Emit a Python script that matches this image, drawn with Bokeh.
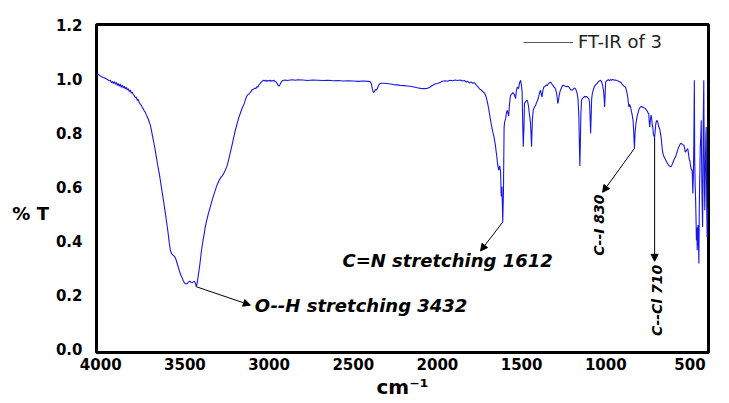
from math import pi

from bokeh.plotting import figure
from bokeh.models import (Range1d, FixedTicker, NumeralTickFormatter, Arrow, NormalHead,
                          Label, Legend, LegendItem)
from bokeh.embed import file_html
from bokeh.resources import INLINE

# FT-IR spectrum of compound 3: wavenumber (cm-1) and transmittance
wavenumber = [
    4020, 4002, 3985, 3970, 3960, 3950, 3943, 3936, 3930, 3925, 3918, 3913, 3907, 3902, 3896,
    3890, 3884, 3878, 3872, 3866, 3860, 3854, 3848, 3842, 3836, 3830, 3824, 3818, 3812, 3806,
    3800, 3795, 3789, 3783, 3777, 3771, 3765, 3759, 3753, 3747, 3741, 3735, 3729, 3723, 3717,
    3711, 3705, 3699, 3693, 3687, 3681, 3676, 3670, 3664, 3658, 3652, 3646, 3640, 3634, 3628,
    3622, 3616, 3610, 3604, 3598, 3593, 3587, 3581, 3575, 3569, 3563, 3557, 3551, 3545, 3539,
    3533, 3527, 3521, 3515, 3509, 3503, 3497, 3491, 3485, 3479, 3473, 3468, 3462, 3456, 3450,
    3444, 3438, 3432, 3426, 3420, 3414, 3408, 3402, 3396, 3390, 3384, 3379, 3373, 3367, 3361,
    3355, 3349, 3343, 3337, 3331, 3325, 3319, 3313, 3307, 3301, 3295, 3289, 3283, 3277, 3271,
    3265, 3259, 3253, 3247, 3241, 3235, 3229, 3223, 3217, 3211, 3205, 3199, 3193, 3187, 3181,
    3175, 3169, 3163, 3157, 3151, 3145, 3139, 3133, 3127, 3121, 3115, 3109, 3103, 3097, 3091,
    3085, 3079, 3073, 3067, 3061, 3055, 3049, 3043, 3037, 3031, 3025, 3019, 3013, 3007, 3001,
    2995, 2989, 2983, 2977, 2971, 2965, 2959, 2953, 2947, 2941, 2935, 2929, 2923, 2917, 2905,
    2890, 2875, 2860, 2845, 2830, 2800, 2770, 2740, 2710, 2680, 2650, 2620, 2590, 2560, 2530,
    2500, 2470, 2440, 2410, 2400, 2392, 2386, 2380, 2374, 2368, 2362, 2356, 2350, 2344, 2335,
    2320, 2300, 2280, 2260, 2240, 2220, 2200, 2180, 2160, 2140, 2120, 2100, 2080, 2060, 2045,
    2030, 2015, 2000, 1985, 1970, 1955, 1940, 1925, 1910, 1895, 1880, 1865, 1850, 1840, 1830,
    1820, 1810, 1800, 1790, 1780, 1770, 1760, 1750, 1740, 1730, 1720, 1712, 1704, 1696, 1688,
    1680, 1672, 1664, 1656, 1648, 1642, 1636, 1630, 1625, 1621, 1617, 1612, 1608, 1604, 1600,
    1595, 1590, 1585, 1580, 1577, 1572, 1566, 1560, 1553, 1546, 1540, 1536, 1531, 1526, 1518,
    1512, 1506, 1501, 1497, 1493, 1490, 1486, 1483, 1476, 1470, 1465, 1459, 1453, 1447, 1441,
    1436, 1431, 1424, 1417, 1411, 1405, 1398, 1392, 1388, 1382, 1379, 1374, 1368, 1360, 1354,
    1348, 1340, 1334, 1328, 1320, 1314, 1308, 1302, 1298, 1292, 1285, 1281, 1277, 1273, 1269,
    1262, 1256, 1249, 1240, 1232, 1226, 1219, 1212, 1205, 1199, 1192, 1186, 1180, 1175, 1170,
    1165, 1160, 1157, 1154, 1151, 1148, 1144, 1138, 1132, 1126, 1120, 1114, 1108, 1102, 1097,
    1094, 1090, 1087, 1084, 1080, 1074, 1068, 1062, 1056, 1051, 1045, 1038, 1031, 1025, 1019,
    1014, 1010, 1007, 1004, 1001, 995, 990, 984, 978, 972, 966, 960, 954, 948, 942,
    936, 930, 924, 918, 913, 907, 901, 895, 889, 883, 877, 871, 867, 863, 858,
    853, 848, 843, 838, 834, 830, 826, 821, 817, 812, 806, 800, 794, 788, 782,
    776, 770, 764, 759, 754, 748, 745, 742, 739, 735, 731, 727, 724, 721, 718,
    716, 713, 710, 707, 704, 700, 695, 690, 685, 680, 675, 670, 665, 660, 655,
    650, 645, 640, 635, 630, 625, 620, 615, 610, 605, 600, 595, 590, 586, 580,
    575, 568, 562, 556, 550, 545, 540, 536, 532, 529, 526, 520, 513, 508, 504,
    501, 497, 494, 491, 487, 483, 480, 477, 474, 472, 469, 467, 464, 462, 459,
    457, 454, 452, 449, 447, 445, 443, 441, 439, 436, 433, 431, 428, 425, 423,
    421, 418, 416, 414, 412, 410, 408, 406, 404, 402, 400, 398, 396,
]
transmittance = [
    1.018, 1.010, 1.004, 1.001, 0.997, 0.992, 0.994, 0.985, 0.990, 0.982, 0.989, 0.979, 0.986, 0.975, 0.982,
    0.972, 0.980, 0.968, 0.976, 0.965, 0.972, 0.962, 0.968, 0.958, 0.963, 0.952, 0.958, 0.946, 0.950, 0.940,
    0.937, 0.930, 0.932, 0.920, 0.923, 0.912, 0.905, 0.902, 0.893, 0.888, 0.880, 0.876, 0.866, 0.858, 0.850,
    0.838, 0.828, 0.810, 0.790, 0.772, 0.752, 0.735, 0.712, 0.690, 0.668, 0.648, 0.625, 0.600, 0.577, 0.553,
    0.528, 0.502, 0.476, 0.450, 0.421, 0.394, 0.368, 0.356, 0.350, 0.347, 0.344, 0.338, 0.328, 0.315, 0.303,
    0.290, 0.279, 0.270, 0.262, 0.252, 0.246, 0.242, 0.242, 0.244, 0.248, 0.251, 0.250, 0.247, 0.246, 0.249,
    0.251, 0.245, 0.231, 0.248, 0.275, 0.300, 0.330, 0.362, 0.388, 0.410, 0.432, 0.452, 0.470, 0.485, 0.500,
    0.513, 0.526, 0.540, 0.553, 0.565, 0.577, 0.588, 0.600, 0.610, 0.618, 0.626, 0.632, 0.638, 0.642, 0.648,
    0.655, 0.663, 0.672, 0.683, 0.698, 0.714, 0.730, 0.746, 0.763, 0.780, 0.797, 0.812, 0.826, 0.840, 0.853,
    0.864, 0.875, 0.886, 0.895, 0.902, 0.912, 0.925, 0.935, 0.940, 0.942, 0.946, 0.951, 0.957, 0.960, 0.962,
    0.965, 0.963, 0.970, 0.968, 0.976, 0.980, 0.985, 0.989, 0.992, 0.994, 0.991, 0.994, 0.990, 0.993, 0.991,
    0.994, 0.990, 0.993, 0.991, 0.994, 0.990, 0.988, 0.983, 0.976, 0.972, 0.978, 0.986, 0.991, 0.993, 0.995,
    0.993, 0.995, 0.996, 0.994, 0.996, 0.995, 0.993, 0.995, 0.994, 0.993, 0.994, 0.992, 0.993, 0.991, 0.992,
    0.991, 0.990, 0.991, 0.990, 0.989, 0.980, 0.960, 0.948, 0.952, 0.960, 0.958, 0.965, 0.974, 0.980, 0.983,
    0.983, 0.982, 0.980, 0.978, 0.977, 0.975, 0.974, 0.973, 0.972, 0.969, 0.966, 0.964, 0.963, 0.964, 0.968,
    0.975, 0.980, 0.982, 0.986, 0.990, 0.992, 0.990, 0.994, 0.992, 0.995, 0.993, 0.995, 0.991, 0.993, 0.988,
    0.990, 0.984, 0.988, 0.983, 0.985, 0.977, 0.970, 0.962, 0.958, 0.952, 0.946, 0.935, 0.915, 0.890, 0.860,
    0.830, 0.805, 0.785, 0.755, 0.715, 0.680, 0.662, 0.678, 0.655, 0.565, 0.600, 0.470, 0.577, 0.821, 0.842,
    0.852, 0.875, 0.883, 0.870, 0.862, 0.905, 0.938, 0.942, 0.948, 0.945, 0.935, 0.926, 0.955, 0.969, 0.963,
    0.985, 0.994, 0.975, 0.949, 0.820, 0.748, 0.820, 0.908, 0.915, 0.920, 0.918, 0.898, 0.865, 0.835, 0.748,
    0.850, 0.883, 0.895, 0.901, 0.912, 0.920, 0.935, 0.950, 0.957, 0.940, 0.932, 0.955, 0.969, 0.972, 0.976,
    0.975, 0.982, 0.985, 0.987, 0.980, 0.975, 0.969, 0.966, 0.960, 0.945, 0.908, 0.920, 0.938, 0.950, 0.957,
    0.968, 0.975, 0.975, 0.972, 0.970, 0.972, 0.969, 0.962, 0.958, 0.957, 0.962, 0.965, 0.963, 0.955, 0.945,
    0.925, 0.860, 0.760, 0.677, 0.760, 0.870, 0.920, 0.928, 0.930, 0.935, 0.932, 0.934, 0.930, 0.927, 0.915,
    0.870, 0.797, 0.860, 0.925, 0.945, 0.960, 0.970, 0.976, 0.980, 0.982, 0.988, 0.992, 0.994, 0.988, 0.975,
    0.957, 0.930, 0.895, 0.940, 0.987, 0.992, 0.994, 0.996, 0.993, 0.996, 0.994, 0.997, 0.996, 0.994, 0.995,
    0.993, 0.992, 0.990, 0.988, 0.987, 0.983, 0.978, 0.974, 0.970, 0.969, 0.955, 0.938, 0.915, 0.895, 0.905,
    0.895, 0.880, 0.865, 0.845, 0.800, 0.742, 0.800, 0.834, 0.850, 0.865, 0.880, 0.890, 0.895, 0.897, 0.895,
    0.893, 0.891, 0.889, 0.884, 0.880, 0.872, 0.871, 0.840, 0.821, 0.850, 0.865, 0.850, 0.830, 0.821, 0.800,
    0.790, 0.787, 0.784, 0.805, 0.828, 0.842, 0.846, 0.836, 0.821, 0.815, 0.797, 0.775, 0.740, 0.722, 0.712,
    0.707, 0.700, 0.694, 0.688, 0.683, 0.679, 0.676, 0.674, 0.677, 0.684, 0.692, 0.700, 0.707, 0.711, 0.722,
    0.732, 0.745, 0.754, 0.760, 0.760, 0.757, 0.755, 0.754, 0.742, 0.730, 0.729, 0.736, 0.741, 0.720, 0.700,
    0.698, 0.680, 0.670, 0.662, 0.662, 0.576, 0.640, 0.760, 0.994, 0.700, 0.600, 0.563, 0.480, 0.403, 0.450,
    0.366, 0.420, 0.459, 0.380, 0.317, 0.500, 0.600, 0.662, 0.750, 0.780, 0.846, 0.700, 0.550, 0.452, 0.600,
    0.850, 0.994, 0.750, 0.600, 0.514, 0.600, 0.700, 0.780, 0.821, 0.650, 0.500, 0.415, 0.520,
]

x_ticks = [4000, 3500, 3000, 2500, 2000, 1500, 1000, 500]
y_ticks = [0.0, 0.2, 0.4, 0.6, 0.8, 1.0, 1.2]

# assigned bands: label text and band position (cm-1)
band_labels = ["O--H stretching 3432", "C=N stretching 1612", "C--I 830", "C--Cl 710"]
band_positions = [3432, 1612, 830, 710]

series_label = "FT-IR of 3"
x_title = "cm\u207b\u00b9"
y_title = "% T"

FONT = "DejaVu Sans"

p = figure(width=729, height=403, output_backend="svg", toolbar_location=None,
           x_range=Range1d(4025, 390), y_range=Range1d(-0.012, 1.2),
           min_border_left=96, min_border_right=21, min_border_top=24, min_border_bottom=51)

p.background_fill_color = "white"
p.border_fill_color = "white"
p.outline_line_color = "black"
p.outline_line_width = 3
p.grid.visible = False

p.xaxis.ticker = FixedTicker(ticks=x_ticks)
p.yaxis.ticker = FixedTicker(ticks=y_ticks)
p.yaxis.formatter = NumeralTickFormatter(format="0.0")
for ax in (p.xaxis[0], p.yaxis[0]):
    ax.axis_line_color = None
    ax.major_tick_line_color = None
    ax.minor_tick_line_color = None
    ax.major_tick_in = 0
    ax.major_tick_out = 0
    ax.minor_tick_in = 0
    ax.minor_tick_out = 0
    ax.major_label_text_font = FONT
    ax.major_label_text_font_style = "bold"
    ax.major_label_text_font_size = "15px"
    ax.major_label_text_color = "black"
    ax.axis_label_text_font = FONT
    ax.axis_label_text_font_style = "bold"
    ax.axis_label_text_color = "black"
p.xaxis.major_label_standoff = 5
p.yaxis.major_label_standoff = 14

# axis titles: the %T title sits level with the 0.4-0.6 gap
p.yaxis.axis_label = "\n\n" + y_title
p.yaxis.axis_label_orientation = "horizontal"
p.yaxis.axis_label_text_font_size = "18px"
p.yaxis.axis_label_standoff = 4
p.xaxis.axis_label = x_title
p.xaxis.axis_label_text_font_size = "20px"
p.xaxis.axis_label_standoff = 2

# spectrum trace
spectrum = p.line(wavenumber, transmittance, line_color="#1818e6", line_width=1.1)

# legend key (a grey sample line, as in the printed key)
key = p.line(x=[float("nan")], y=[float("nan")], line_color="#555555", line_width=1)
legend = Legend(items=[LegendItem(label=series_label, renderers=[key])],
                location=(427, 300), glyph_width=50, glyph_height=16, label_height=16,
                label_standoff=5, padding=0, margin=0, border_line_alpha=0,
                background_fill_alpha=0, label_text_font=FONT, label_text_font_size="18px",
                label_text_color="#222222")
p.add_layout(legend)

# band annotations: arrow from the band minimum to its label
t_at = dict(zip(wavenumber, transmittance))
arrow_ends = [(3111, 0.163), (1744, 0.363), (1019, 0.580), (710, 0.325)]
label_anchor = [(3085, 0.160), (2564, 0.329), (1043, 0.572), (693, 0.312)]
label_angle = [0, 0, pi / 2, pi / 2]
label_align = ["left", "left", "right", "right"]
label_size = ["18px", "18px", "14px", "14px"]

for text, wn, (xe, ye), (xl, yl), ang, al, fs in zip(band_labels, band_positions, arrow_ends,
                                                      label_anchor, label_angle, label_align,
                                                      label_size):
    p.add_layout(Arrow(x_start=wn, y_start=t_at[wn], x_end=xe, y_end=ye,
                       line_color="black", line_width=1,
                       end=NormalHead(size=7, fill_color="black", line_color="black")))
    p.add_layout(Label(x=xl, y=yl, text=text, angle=ang, text_font=FONT,
                       text_font_style="bold italic", text_font_size=fs,
                       text_align=al, text_baseline="middle", text_color="black"))

open("out.html", "w").write(file_html(p, INLINE))
